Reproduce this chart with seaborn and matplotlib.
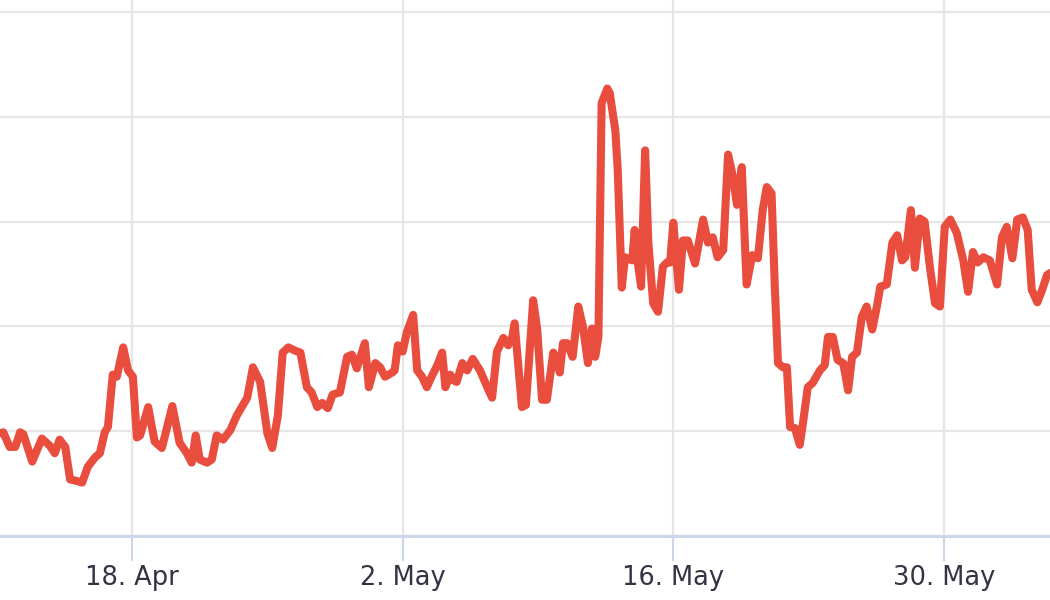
import matplotlib
matplotlib.use("Agg")
import matplotlib.pyplot as plt
import matplotlib.dates as mdates
import numpy as np
import pandas as pd
import seaborn as sns

# ---- data (hours since 2023-04-11 00:00, values) ----
start = "2023-04-11 00:00"
hours = [
    4, 8, 16, 23, 29, 33, 44, 56, 66, 72, 78, 85, 91, 97, 106, 113, 122, 128, 134, 138,
    144, 149, 157, 163, 169, 174, 178, 188, 196, 205, 218, 227, 236, 242, 247, 252, 261, 267, 273, 281,
    290, 298, 311, 318, 327, 336, 342, 349, 355, 362, 370, 377, 385, 391, 398, 404, 411, 417, 426, 435,
    441, 447, 457, 462, 470, 476, 482, 491, 494, 498, 504, 509, 517, 522, 528, 534, 538, 547, 553, 557,
    563, 566, 571, 578, 584, 591, 600, 609, 615, 621, 629, 635, 640, 643, 652, 657, 666, 671, 677, 683,
    691, 696, 699, 703, 708, 715, 722, 728, 734, 739, 743, 747, 751, 758, 761, 768, 771, 776, 780, 789,
    792, 795, 800, 805, 809, 815, 821, 827, 832, 836, 840, 847, 852, 858, 867, 877, 883, 889, 895, 902,
    908, 914, 919, 925, 931, 938, 945, 951, 956, 962, 966, 970, 976, 981, 985, 991, 997, 1001, 1007, 1013,
    1022, 1028, 1032, 1038, 1044, 1051, 1057, 1062, 1068, 1074, 1080, 1087, 1093, 1097, 1105, 1112, 1118, 1124, 1128, 1135,
    1140, 1146, 1152, 1159, 1165, 1171, 1177, 1184, 1192, 1200, 1206, 1212, 1218, 1225, 1233, 1242, 1248, 1254, 1261, 1267,
    1274, 1280, 1285, 1292, 1298, 1304, 1308,
]
values = [
    9.8, 9.9, 8.5, 8.5, 9.9, 9.7, 7.1, 9.3, 8.6, 7.9, 9.2, 8.5, 5.4, 5.3, 5.1, 6.6, 7.5, 7.9, 9.9, 10.4,
    15.4, 15.2, 18.0, 15.8, 15.2, 9.4, 9.6, 12.3, 9.0, 8.4, 12.4, 8.9, 7.9, 7.0, 9.6, 7.3, 7.0, 7.3, 9.6, 9.2,
    10.1, 11.5, 13.2, 16.1, 14.7, 9.8, 8.4, 11.5, 17.5, 18.0, 17.7, 17.5, 14.2, 13.7, 12.3, 12.7, 12.2, 13.5, 13.7, 17.1,
    17.3, 16.0, 18.4, 14.2, 16.5, 16.1, 15.2, 15.6, 15.8, 18.2, 17.6, 19.4, 21.1, 15.8, 15.2, 14.2, 14.9, 16.3, 17.5, 14.2,
    15.4, 14.9, 14.7, 16.5, 15.8, 16.9, 15.8, 14.2, 13.2, 17.6, 18.9, 18.2, 19.0, 20.3, 12.3, 12.5, 22.5, 19.7, 13.0, 13.0,
    17.5, 16.8, 15.6, 18.4, 18.4, 17.1, 21.9, 19.9, 16.5, 19.8, 17.1, 19.0, 41.3, 42.7, 42.3, 38.7, 34.9, 23.7, 26.6, 26.3,
    29.2, 26.6, 23.8, 36.8, 28.0, 22.2, 21.4, 25.7, 26.1, 26.1, 29.9, 23.5, 28.2, 28.2, 26.0, 30.2, 28.0, 28.5, 26.6, 27.3,
    36.4, 34.3, 31.6, 35.2, 24.0, 26.8, 26.5, 31.1, 33.3, 32.7, 23.8, 16.5, 16.1, 16.1, 10.4, 10.3, 8.7, 10.8, 14.2, 14.6,
    15.8, 16.3, 19.0, 19.0, 16.8, 16.5, 13.9, 17.1, 17.5, 20.9, 21.9, 19.7, 22.0, 23.8, 24.0, 28.0, 28.7, 26.3, 26.6, 31.1,
    25.6, 30.3, 30.0, 25.4, 22.2, 21.9, 29.5, 30.2, 28.9, 26.3, 23.3, 27.1, 26.1, 26.6, 26.3, 24.0, 28.5, 29.5, 26.5, 30.2,
    30.4, 29.2, 23.5, 22.3, 23.5, 24.9, 25.1,
]
tick_dates = ["2023-04-18", "2023-05-02", "2023-05-16", "2023-05-30"]
tick_labels = ["18. Apr", "2. May", "16. May", "30. May"]
y_ticks = [0, 10, 20, 30, 40, 50]

# ---- build frame ----
t0 = pd.Timestamp(start)
df = pd.DataFrame({
    "time": [t0 + pd.Timedelta(hours=h) for h in hours],
    "value": values,
})

sns.set_style("white")
plt.rcParams["font.family"] = ["DejaVu Sans"]

fig = plt.figure(figsize=(10.5, 6), dpi=100)
ax = fig.add_axes([0, 64 / 600, 1, 536 / 600])

sns.lineplot(data=df, x="time", y="value", ax=ax, color="#e84d3d",
             linewidth=5.8, solid_joinstyle="round", solid_capstyle="round",
             zorder=3)

ax.set_xlim(t0 + pd.Timedelta(hours=4), t0 + pd.Timedelta(hours=1307.7))
ax.set_ylim(0, 51.15)

ax.set_yticks(y_ticks)
ax.set_xticks(pd.to_datetime(tick_dates))
ax.set_xticklabels(tick_labels)

ax.grid(True, axis="both", color="#e6e6e6", linewidth=1.6, zorder=0)
ax.set_axisbelow(True)

for s in ["top", "left", "right"]:
    ax.spines[s].set_visible(False)
ax.spines["bottom"].set_color("#ccd6eb")
ax.spines["bottom"].set_linewidth(2.2)

ax.tick_params(axis="y", left=False, labelleft=False)
ax.tick_params(axis="x", bottom=True, direction="out", length=18, width=1.5,
               color="#ccd6eb", labelsize=18.5, labelcolor="#333344", pad=3)
ax.set_xlabel("")
ax.set_ylabel("")

fig.savefig("out.png", dpi=100)
